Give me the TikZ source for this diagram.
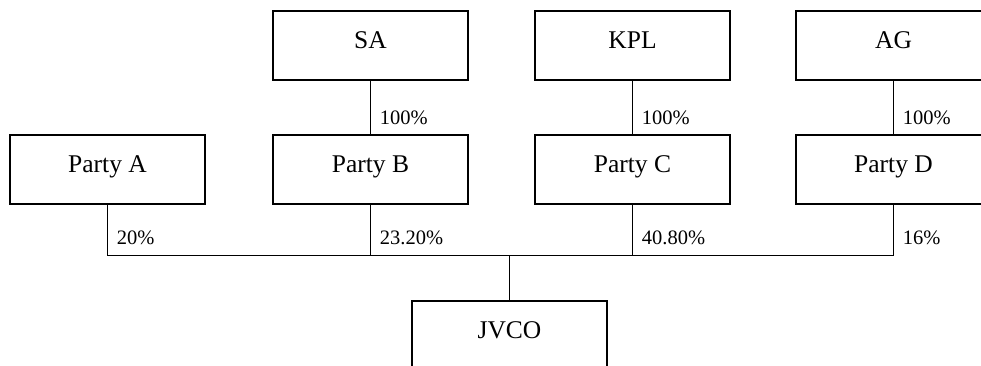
\documentclass[tikz,border=0pt]{standalone}
\usepackage{fontspec}
\setmainfont{Liberation Serif}
\begin{document}
\begin{tikzpicture}[x=1pt,y=-1pt,
  box/.style={draw, line width=1.1pt, minimum width=195pt, minimum height=69pt, inner sep=0pt,
    font=\fontsize{25.5}{30}\selectfont, text height=.68em, text depth=.04em},
  pct/.style={anchor=west, inner sep=0pt, font=\fontsize{20.5}{24}\selectfont,
    text height=.68em, text depth=.1em},
  link/.style={line width=0.9pt}]
\useasboundingbox (0,0) rectangle (981,366);
\clip (0,0) rectangle (981,366);
\node[box] (SA)  at (370.5,45.5) {SA};
\node[box] (KPL) at (632.5,45.5) {KPL};
\node[box] (AG)  at (893.5,45.5) {AG};
\node[box] (A) at (107.5,169.5) {Party A};
\node[box] (B) at (370.5,169.5) {Party B};
\node[box] (C) at (632.5,169.5) {Party C};
\node[box] (D) at (893.5,169.5) {Party D};
\node[box] (J) at (509.5,335.5) {JVCO};
\coordinate (bar) at (509.5,255.5);
\draw[link] (SA.south) -- (B.north) node[pct, pos=.76, xshift=9pt] {100\%};
\draw[link] (KPL.south) -- (C.north) node[pct, pos=.76, xshift=9pt] {100\%};
\draw[link] (AG.south) -- (D.north) node[pct, pos=.76, xshift=9pt] {100\%};
\draw[link] (A.south) -- (A.south |- bar) node[pct, pos=.72, xshift=9pt] {20\%} -- (D.south |- bar);
\draw[link] (B.south) -- (B.south |- bar) node[pct, pos=.72, xshift=9pt] {23.20\%};
\draw[link] (C.south) -- (C.south |- bar) node[pct, pos=.72, xshift=9pt] {40.80\%};
\draw[link] (D.south) -- (D.south |- bar) node[pct, pos=.72, xshift=9pt] {16\%};
\draw[link] (bar) -- (J.north);
\end{tikzpicture}
\end{document}
